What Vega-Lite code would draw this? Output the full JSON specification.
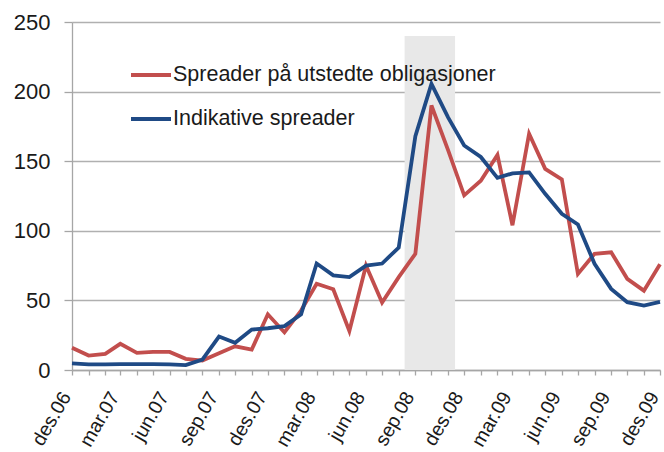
{
  "$schema": "https://vega.github.io/schema/vega-lite/v6.json",
  "width": 588,
  "height": 348,
  "autosize": "none",
  "padding": {"left": 72, "top": 22, "right": 4, "bottom": 82},
  "background": "white",
  "config": {
    "view": {"stroke": null},
    "font": "Liberation Sans",
    "axis": {"labelFont": "Liberation Sans", "labelFontSize": 22, "labelColor": "#1a1a1a", "domainColor": "#a6a6a6", "tickColor": "#a6a6a6", "gridColor": "#b0b0b0", "domainWidth": 1.3, "tickWidth": 1.3, "gridWidth": 1.3}
  },
  "datasets": {
    "series": [
      {"date": "2006-12-01", "Spreader på utstedte obligasjoner": 16, "Indikative spreader": 4.7},
      {"date": "2007-01-01", "Spreader på utstedte obligasjoner": 10.4, "Indikative spreader": 4},
      {"date": "2007-02-01", "Spreader på utstedte obligasjoner": 11.6, "Indikative spreader": 4},
      {"date": "2007-03-01", "Spreader på utstedte obligasjoner": 18.8, "Indikative spreader": 4.2},
      {"date": "2007-04-01", "Spreader på utstedte obligasjoner": 12.3, "Indikative spreader": 4.2},
      {"date": "2007-05-01", "Spreader på utstedte obligasjoner": 13, "Indikative spreader": 4.2},
      {"date": "2007-06-01", "Spreader på utstedte obligasjoner": 13, "Indikative spreader": 4},
      {"date": "2007-07-01", "Spreader på utstedte obligasjoner": 8, "Indikative spreader": 3.5},
      {"date": "2007-08-01", "Spreader på utstedte obligasjoner": 6.8, "Indikative spreader": 7.5},
      {"date": "2007-09-01", "Spreader på utstedte obligasjoner": 12, "Indikative spreader": 24},
      {"date": "2007-10-01", "Spreader på utstedte obligasjoner": 17, "Indikative spreader": 19.5},
      {"date": "2007-11-01", "Spreader på utstedte obligasjoner": 14.7, "Indikative spreader": 29},
      {"date": "2007-12-01", "Spreader på utstedte obligasjoner": 40, "Indikative spreader": 30},
      {"date": "2008-01-01", "Spreader på utstedte obligasjoner": 27, "Indikative spreader": 31.5},
      {"date": "2008-02-01", "Spreader på utstedte obligasjoner": 42.7, "Indikative spreader": 40},
      {"date": "2008-03-01", "Spreader på utstedte obligasjoner": 62, "Indikative spreader": 76.5},
      {"date": "2008-04-01", "Spreader på utstedte obligasjoner": 58, "Indikative spreader": 68},
      {"date": "2008-05-01", "Spreader på utstedte obligasjoner": 28, "Indikative spreader": 66.7},
      {"date": "2008-06-01", "Spreader på utstedte obligasjoner": 75, "Indikative spreader": 75},
      {"date": "2008-07-01", "Spreader på utstedte obligasjoner": 48.5, "Indikative spreader": 76.5},
      {"date": "2008-08-01", "Spreader på utstedte obligasjoner": 66.7, "Indikative spreader": 88},
      {"date": "2008-09-01", "Spreader på utstedte obligasjoner": 83.5, "Indikative spreader": 168},
      {"date": "2008-10-01", "Spreader på utstedte obligasjoner": 190, "Indikative spreader": 205.5},
      {"date": "2008-11-01", "Spreader på utstedte obligasjoner": 158, "Indikative spreader": 181.5},
      {"date": "2008-12-01", "Spreader på utstedte obligasjoner": 125.5, "Indikative spreader": 161.3},
      {"date": "2009-01-01", "Spreader på utstedte obligasjoner": 136, "Indikative spreader": 153},
      {"date": "2009-02-01", "Spreader på utstedte obligasjoner": 154.5, "Indikative spreader": 138},
      {"date": "2009-03-01", "Spreader på utstedte obligasjoner": 104, "Indikative spreader": 141.3},
      {"date": "2009-04-01", "Spreader på utstedte obligasjoner": 169.7, "Indikative spreader": 142},
      {"date": "2009-05-01", "Spreader på utstedte obligasjoner": 144.5, "Indikative spreader": 126.6},
      {"date": "2009-06-01", "Spreader på utstedte obligasjoner": 137, "Indikative spreader": 112.2},
      {"date": "2009-07-01", "Spreader på utstedte obligasjoner": 69, "Indikative spreader": 104.5},
      {"date": "2009-08-01", "Spreader på utstedte obligasjoner": 83.5, "Indikative spreader": 76.3},
      {"date": "2009-09-01", "Spreader på utstedte obligasjoner": 84.6, "Indikative spreader": 58.3},
      {"date": "2009-10-01", "Spreader på utstedte obligasjoner": 65.5, "Indikative spreader": 48.7},
      {"date": "2009-11-01", "Spreader på utstedte obligasjoner": 57, "Indikative spreader": 46.3},
      {"date": "2009-12-01", "Spreader på utstedte obligasjoner": 76, "Indikative spreader": 49}
    ],
    "band": [
      {"start": "2008-08-12", "end": "2008-11-14", "top": 240}
    ]
  },
  "layer": [
    {
      "data": {"name": "band"},
      "mark": {"type": "rect", "color": "#e8e8e8"},
      "encoding": {
        "x": {"field": "start", "type": "temporal", "scale": {"type": "utc", "domain": [{"year": 2006, "month": 12, "date": 1, "utc": true}, {"year": 2009, "month": 12, "date": 1, "utc": true}], "nice": false}, "title": null,
          "axis": {"tickCount": {"interval": "month", "step": 1}, "tickSize": 5, "labelFontSize": 19.5, "labelAngle": -60, "labelAlign": "right", "labelBaseline": "middle", "labelPadding": 18, "labelOffset": -6, "labelOverlap": false, "labelFlush": false, "labelBound": false, "grid": false,
            "labelExpr": "utcmonth(datum.value) % 3 == 2 ? ['jan','feb','mar','apr','mai','jun','jul','aug','sep','okt','nov','des'][utcmonth(datum.value)] + '.' + utcFormat(datum.value, '%y') : ''"}},
        "x2": {"field": "end"},
        "y": {"field": "top", "type": "quantitative", "scale": {"domain": [0, 250], "nice": false}, "title": null,
          "axis": {"values": [0, 50, 100, 150, 200, 250], "tickSize": 8, "labelPadding": 14, "grid": true}},
        "y2": {"datum": 0}
      }
    },
    {
      "data": {"name": "series"},
      "transform": [{"fold": ["Spreader på utstedte obligasjoner", "Indikative spreader"], "as": ["serie", "verdi"]}],
      "mark": {"type": "line", "strokeWidth": 3.8},
      "encoding": {
        "x": {"field": "date", "type": "temporal"},
        "y": {"field": "verdi", "type": "quantitative"},
        "color": {"field": "serie", "type": "nominal",
          "scale": {"domain": ["Spreader på utstedte obligasjoner", "Indikative spreader"], "range": ["#c24e4d", "#1f4a85"]},
          "legend": {"title": null, "orient": "none", "legendX": 57, "legendY": 31, "padding": 0, "symbolType": "stroke", "symbolSize": 1600, "symbolStrokeWidth": 4, "labelFontSize": 21.5, "labelFont": "Liberation Sans", "labelColor": "#1a1a1a", "labelOffset": 0, "rowPadding": 11, "labelLimit": 600}
        }
      }
    }
  ]
}
